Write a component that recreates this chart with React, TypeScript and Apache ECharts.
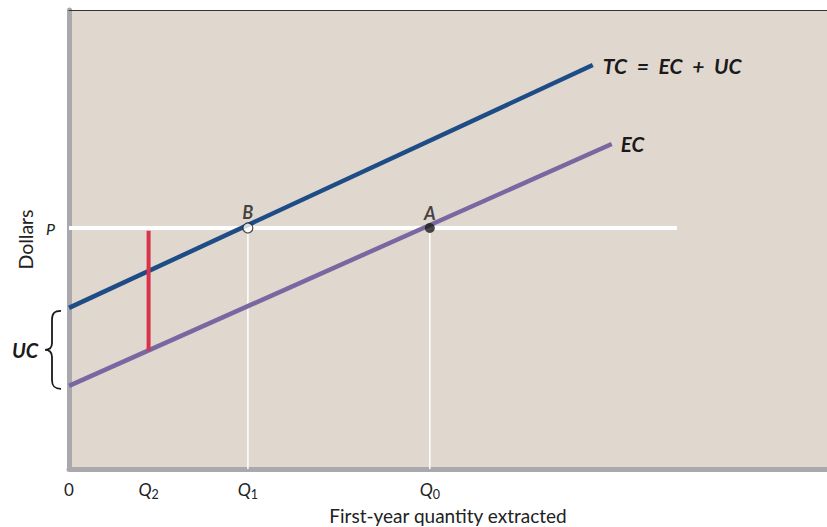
import React, { useEffect, useRef } from "react";
import * as echarts from "echarts";

// ---- data (abstract units: quantity 0..100, dollars 0..100) ----
const tickValues = [0, 10.5, 23.6, 47.6];
const tickNames = ["0", "Q2", "Q1", "Q0"];
const Q2 = 10.5;
const Q1 = 23.6;
const Q0 = 47.6;
const priceLevel = 52.5;
const priceLineEnd = 80.2;
const tcLine = [
  [0, 35.1],
  [69.1, 88.0],
];
const ecLine = [
  [0, 18.1],
  [71.6, 70.8],
];
const ucGap = [25.8, 51.9]; // red vertical segment at Q2
const pointB = [Q1, priceLevel];
const pointA = [Q0, priceLevel];

const FONT = "Lato, 'Open Sans', sans-serif";
const SP = "\u2002";
const BRACE_D =
  "M 16 0 C 9 0 7 3 7 9 L 7 33 C 7 38 4 40 0 40 C 4 40 7 42 7 47 L 7 71 C 7 77 9 80 16 80";

echarts.graphic.registerShape(
  "brace",
  (echarts.graphic as any).extendPath(BRACE_D, {})
);

export default function App() {
  const ref = useRef<HTMLDivElement>(null);
  useEffect(() => {
    if (!ref.current) return;
    const chart = echarts.init(ref.current, null, { renderer: "svg" });
    const axisGray = "#a9a9ad";
    const labelFmt = (v: number) => {
      let idx = tickValues.findIndex((t) => Math.abs(t - v) < 1e-6);
      const n = tickNames[idx] ?? "";
      if (n.startsWith("Q")) return `{q|Q}{s|${n.slice(1)}}`;
      return `{n|${n}}`;
    };
    const boldItalic = {
      fontFamily: FONT,
      fontWeight: "bold",
      fontStyle: "italic",
      color: "#1a1a1a",
    };
    const option: any = {
      animation: false,
      backgroundColor: "#ffffff",
      textStyle: { fontFamily: FONT },
      grid: {
        left: 69,
        right: 0,
        top: 10,
        bottom: 58,
        show: true,
        backgroundColor: "#e0d8cf",
        borderWidth: 0,
        containLabel: false,
        outerBoundsMode: "none",
      },
      xAxis: [
        {
          type: "value",
          min: 0,
          max: 100,
          position: "bottom",
          name: "First-year quantity extracted",
          nameLocation: "middle",
          nameGap: 37,
          nameTextStyle: { fontFamily: FONT, fontSize: 19, color: "#222" },
          axisLine: { show: true, lineStyle: { color: axisGray, width: 5 } },
          axisTick: { show: false },
          splitLine: { show: false },
          axisLabel: {
            customValues: tickValues,
            margin: 8,
            formatter: labelFmt,
            rich: {
              n: { fontFamily: FONT, fontSize: 17, color: "#222", lineHeight: 24, verticalAlign: "middle" },
              q: { fontFamily: FONT, fontSize: 17.5, fontStyle: "italic", color: "#222", lineHeight: 24, verticalAlign: "middle" },
              s: { fontFamily: FONT, fontSize: 12.5, color: "#222", lineHeight: 24, verticalAlign: "bottom" },
            },
          },
        },
        {
          type: "value",
          min: 0,
          max: 100,
          position: "top",
          axisLine: { show: true, lineStyle: { color: "#333", width: 1 } },
          axisTick: { show: false },
          axisLabel: { show: false },
          splitLine: { show: false },
        },
      ],
      yAxis: {
        type: "value",
        min: 0,
        max: 100,
        name: "Dollars",
        nameLocation: "middle",
        nameGap: 34,
        nameTextStyle: { fontFamily: FONT, fontSize: 19.5, color: "#222" },
        axisLine: { show: true, lineStyle: { color: axisGray, width: 5 } },
        axisTick: { show: false },
        splitLine: { show: false },
        axisLabel: {
          customValues: [priceLevel],
          margin: 14,
          formatter: () => "P",
          fontFamily: FONT,
          fontSize: 16,
          fontStyle: "italic",
          color: "#222",
        },
      },
      series: [
        {
          type: "line",
          data: [
            [0, priceLevel],
            [priceLineEnd, priceLevel],
          ],
          symbol: "none",
          lineStyle: { color: "#ffffff", width: 4 },
          z: 1,
        },
        {
          type: "line",
          data: [
            [Q1, priceLevel],
            [Q1, 0],
          ],
          symbol: "none",
          lineStyle: { color: "#ffffff", width: 1.5 },
          z: 1,
        },
        {
          type: "line",
          data: [
            [Q0, priceLevel],
            [Q0, 0],
          ],
          symbol: "none",
          lineStyle: { color: "#ffffff", width: 1.5 },
          z: 1,
        },
        {
          type: "line",
          data: tcLine,
          symbol: "none",
          lineStyle: { color: "#1d4c86", width: 4.5, cap: "butt" },
          z: 2,
          endLabel: {
            show: true,
            formatter: `TC${SP}=${SP}EC${SP}+${SP}UC`,
            distance: 10,
            fontSize: 21,
            ...boldItalic,
          },
        },
        {
          type: "line",
          data: ecLine,
          symbol: "none",
          lineStyle: { color: "#7a67a2", width: 4.5, cap: "butt" },
          z: 2,
          endLabel: {
            show: true,
            formatter: "EC",
            distance: 9,
            fontSize: 20.5,
            ...boldItalic,
          },
        },
        {
          type: "line",
          data: [
            [Q2, ucGap[0]],
            [Q2, ucGap[1]],
          ],
          symbol: "none",
          lineStyle: { color: "#d8334b", width: 4, cap: "butt" },
          z: 3,
        },
        {
          type: "scatter",
          data: [pointB],
          symbol: "circle",
          symbolSize: 10,
          itemStyle: { color: "#ffffff", borderColor: "#1a1a1a", borderWidth: 1.2 },
          z: 5,
          label: {
            show: true,
            position: "top",
            distance: 1,
            formatter: "B",
            fontSize: 18,
            ...boldItalic,
          },
        },
        {
          type: "scatter",
          data: [pointA],
          symbol: "circle",
          symbolSize: 10,
          itemStyle: { color: "#1a1a1a" },
          z: 5,
          label: {
            show: true,
            position: "top",
            distance: 1,
            formatter: "A",
            fontSize: 18,
            ...boldItalic,
          },
        },
      ],
    };
    chart.setOption(option);

    // UC brace positioned from the two intercepts
    const top = chart.convertToPixel({ gridIndex: 0 }, [0, tcLine[0][1]]) as number[];
    const bot = chart.convertToPixel({ gridIndex: 0 }, [0, ecLine[0][1]]) as number[];
    const h = bot[1] - top[1];
    chart.setOption({
      graphic: [
        {
          type: "brace",
          x: top[0] - 24,
          y: top[1] + 3,
          scaleX: 1,
          scaleY: h / 80,
          style: { fill: null, stroke: "#1a1a1a", lineWidth: 1.8 },
          silent: true,
        },
        {
          type: "text",
          x: top[0] - 44,
          y: (top[1] + bot[1]) / 2 + 3,
          style: {
            text: "UC",
            fontFamily: FONT,
            fontSize: 20,
            fontWeight: "bold",
            fontStyle: "italic",
            fill: "#1a1a1a",
            align: "center",
            verticalAlign: "middle",
          },
          silent: true,
        },
      ],
    });

    return () => chart.dispose();
  }, []);
  return (
    <div
      ref={ref}
      style={{ position: "fixed", left: 0, top: 0, width: 827, height: 527 }}
    />
  );
}
